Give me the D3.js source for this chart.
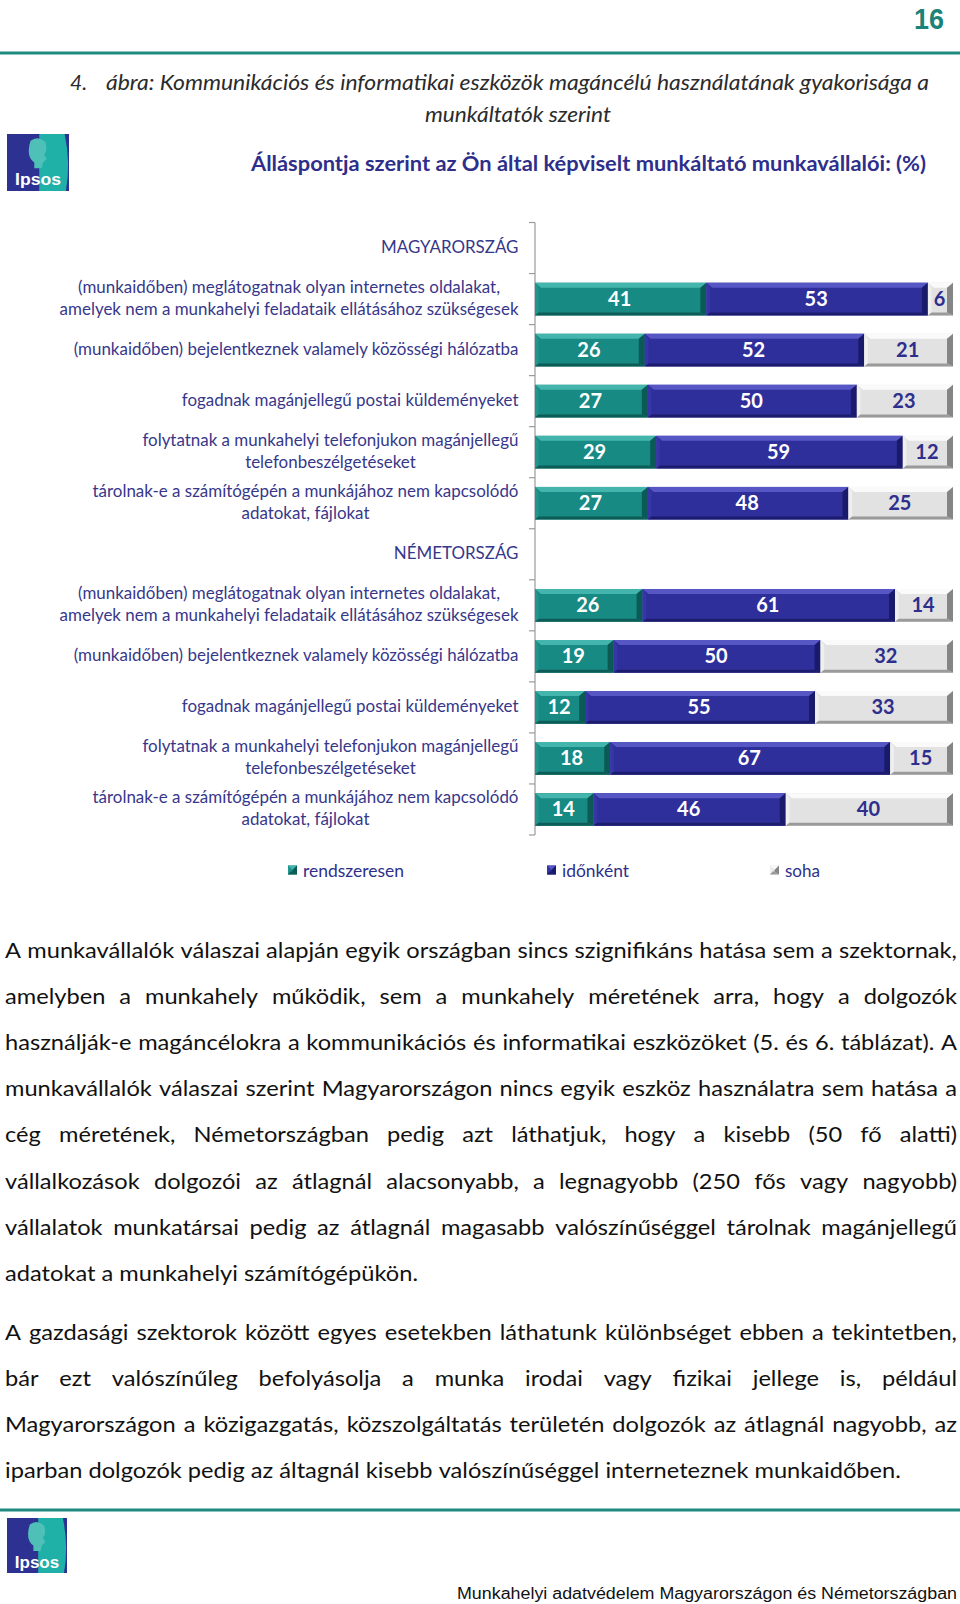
<!DOCTYPE html>
<html>
<head>
<meta charset="utf-8">
<script src="https://cdn.jsdelivr.net/npm/d3@7"></script>
<style>
  html, body { margin: 0; padding: 0; background: #fff; }
  svg { display: block; }
</style>
</head>
<body>
<svg id="page" width="960" height="1604"></svg>
<script>
// ---------------- DATA ----------------
const pageNumber = "16";
const figureNumber = "4.";
const titleLine1 = "ábra: Kommunikációs és informatikai eszközök magáncélú használatának gyakorisága a";
const titleLine2 = "munkáltatók szerint";
const subtitle = "Álláspontja szerint az Ön által képviselt munkáltató munkavállalói: (%)";

const countries = ["MAGYARORSZÁG", "NÉMETORSZÁG"];
const categories = [
  ["(munkaidőben) meglátogatnak olyan internetes oldalakat,", "amelyek nem a munkahelyi feladataik ellátásához szükségesek"],
  ["(munkaidőben) bejelentkeznek valamely közösségi hálózatba"],
  ["fogadnak magánjellegű postai küldeményeket"],
  ["folytatnak a munkahelyi telefonjukon magánjellegű", "telefonbeszélgetéseket"],
  ["tárolnak-e a számítógépén a munkájához nem kapcsolódó", "adatokat, fájlokat"]
];
const seriesNames = ["rendszeresen", "időnként", "soha"];

const huRendszeresen = [41, 26, 27, 29, 27];
const huIdonkent     = [53, 52, 50, 59, 48];
const huSoha         = [6, 21, 23, 12, 25];

const deRendszeresen = [26, 19, 12, 18, 14];
const deIdonkent     = [61, 50, 55, 67, 46];
const deSoha         = [14, 32, 33, 15, 40];

const paragraph1 = [
  "A munkavállalók válaszai alapján egyik országban sincs szignifikáns hatása sem a szektornak,",
  "amelyben a munkahely működik, sem a munkahely méretének arra, hogy a dolgozók",
  "használják-e magáncélokra a kommunikációs és informatikai eszközöket (5. és 6. táblázat). A",
  "munkavállalók válaszai szerint Magyarországon nincs egyik eszköz használatra sem hatása a",
  "cég méretének, Németországban pedig azt láthatjuk, hogy a kisebb (50 fő alatti)",
  "vállalkozások dolgozói az átlagnál alacsonyabb, a legnagyobb (250 fős vagy nagyobb)",
  "vállalatok munkatársai pedig az átlagnál magasabb valószínűséggel tárolnak magánjellegű",
  "adatokat a munkahelyi számítógépükön."
];
const paragraph2 = [
  "A gazdasági szektorok között egyes esetekben láthatunk különbséget ebben a tekintetben,",
  "bár ezt valószínűleg befolyásolja a munka irodai vagy fizikai jellege is, például",
  "Magyarországon a közigazgatás, közszolgáltatás területén dolgozók az átlagnál nagyobb, az",
  "iparban dolgozók pedig az áltagnál kisebb valószínűséggel interneteznek munkaidőben."
];
const footerText = "Munkahelyi adatvédelem Magyarországon és Németországban";

// ---------------- SETUP ----------------
const svg = d3.select("#page");
const TEAL_RULE = "#1f8a80";
const NAVY_TEXT = "#2e2f8a";
const LABEL_COL = "#37378a";
const BODY = "Lato, 'Open Sans', sans-serif";

const palettes = [
  { face: "#188a84", top: "#44b5ad", left: "#22958e", right: "#0b5a55", bottom: "#0c5c57", text: "#ffffff" },
  { face: "#2f2f9c", top: "#5656c4", left: "#3636a6", right: "#1a1a6a", bottom: "#1c1c6e", text: "#ffffff" },
  { face: "#e2e2e2", top: "#fafafa", left: "#efefef", right: "#858585", bottom: "#9a9a9a", text: "#2e2e8c" }
];

function measure(str, font, size, weight, style) {
  const t = svg.append("text").attr("font-family", font).attr("font-size", size)
    .attr("font-weight", weight || "normal").attr("font-style", style || "normal").text(str);
  const w = t.node().getComputedTextLength();
  t.remove();
  return w;
}
function squeeze(sel, ratio) {
  sel.each(function () {
    const w = this.getComputedTextLength();
    d3.select(this).attr("textLength", w * ratio).attr("lengthAdjust", "spacingAndGlyphs");
  });
}

// ---------------- HEADER ----------------
svg.append("text").attr("x", 944).attr("y", 29).attr("text-anchor", "end")
  .attr("font-family", "'Liberation Sans', Arial, sans-serif").attr("font-weight", "bold")
  .attr("font-size", 30).attr("fill", "#1a8278").text(pageNumber)
  .attr("textLength", 30).attr("lengthAdjust", "spacingAndGlyphs");

svg.append("line").attr("x1", 0).attr("x2", 960).attr("y1", 53).attr("y2", 53)
  .attr("stroke", TEAL_RULE).attr("stroke-width", 3);

const titleG = svg.append("g").attr("font-family", BODY).attr("font-style", "italic")
  .attr("font-size", 21).attr("fill", "#2b2b2b");
titleG.append("text").attr("x", 70).attr("y", 90).text(figureNumber);
titleG.append("text").attr("x", 106).attr("y", 90).text(titleLine1)
  .attr("textLength", 823).attr("lengthAdjust", "spacingAndGlyphs");
titleG.append("text").attr("x", 518).attr("y", 122).attr("text-anchor", "middle").text(titleLine2)
  .attr("textLength", 186).attr("lengthAdjust", "spacingAndGlyphs");

svg.append("text").attr("x", 251).attr("y", 171).attr("font-family", BODY).attr("font-weight", "bold")
  .attr("font-size", 21).attr("fill", NAVY_TEXT).text(subtitle)
  .attr("textLength", 675).attr("lengthAdjust", "spacingAndGlyphs");

function drawLogo(x, y, w, h) {
  const g = svg.append("g").attr("transform", `translate(${x},${y})`);
  g.append("rect").attr("width", w).attr("height", h).attr("fill", "#2d3192");
  g.append("path").attr("fill", "#1fb0a8")
    .attr("d", `M${w * 0.52},0 L${w * 0.93},0 Q${w * 1.03},${h * 0.5} ${w * 0.95},${h} L${w * 0.52},${h} Z`);
  // head silhouette
  g.append("path").attr("fill", "#4fc0b8")
    .attr("d", `M${w * 0.38},${h * 0.12} Q${w * 0.5},${h * 0.02} ${w * 0.62},${h * 0.14} Q${w * 0.66},${h * 0.3} ${w * 0.6},${h * 0.36} L${w * 0.64},${h * 0.44} L${w * 0.58},${h * 0.5} L${w * 0.56},${h * 0.6} L${w * 0.44},${h * 0.6} L${w * 0.44},${h * 0.5} Q${w * 0.3},${h * 0.4} ${w * 0.38},${h * 0.12} Z`);
  g.append("text").attr("x", w * 0.5).attr("y", h * 0.9).attr("text-anchor", "middle")
    .attr("font-family", "'Liberation Sans', Arial, sans-serif").attr("font-size", h * 0.3)
    .attr("font-weight", "bold").attr("fill", "#ffffff").text("Ipsos")
    .attr("textLength", w * 0.74).attr("lengthAdjust", "spacingAndGlyphs");
}
drawLogo(7, 134, 62, 57);

// ---------------- CHART ----------------
const rows = [];
countries.forEach((c, ci) => {
  rows.push({ key: "h" + ci, header: c });
  const r = ci === 0 ? [huRendszeresen, huIdonkent, huSoha] : [deRendszeresen, deIdonkent, deSoha];
  categories.forEach((cat, i) => {
    rows.push({ key: ci + "_" + i, label: cat, values: [r[0][i], r[1][i], r[2][i]] });
  });
});

const axisX = 535;
const y = d3.scaleBand().domain(rows.map(d => d.key)).range([222.5, 835])
  .paddingInner(0.36).paddingOuter(0.18);
const x = d3.scaleLinear().domain([0, 100]).range([axisX, 953]);
const step = y.step();
const off = (step - y.bandwidth()) / 2;

// axis line + ticks at band boundaries
const axisG = svg.append("g").attr("stroke", "#9a9a9a").attr("stroke-width", 1.2);
axisG.append("line").attr("x1", axisX).attr("x2", axisX).attr("y1", y.range()[0]).attr("y2", y.range()[1]);
const tickYs = rows.map(d => y(d.key) - off).concat([y(rows[rows.length - 1].key) + y.bandwidth() + off]);
axisG.selectAll("line.tick").data(tickYs).join("line").attr("class", "tick")
  .attr("x1", axisX - 6).attr("x2", axisX).attr("y1", d => d).attr("y2", d => d);

// labels
const labelRight = 518.5;
const LBL_SIZE = 17;
const lblRatio = 422 / measure(categories[0][0], BODY, LBL_SIZE);
const labelG = svg.append("g").attr("font-family", BODY).attr("font-size", LBL_SIZE).attr("fill", LABEL_COL);
rows.forEach(r => {
  const cy = y(r.key) + y.bandwidth() / 2;
  if (r.header) {
    const t = labelG.append("text").attr("x", labelRight).attr("y", cy + 5).attr("text-anchor", "end").text(r.header);
    squeeze(t, lblRatio);
  } else if (r.label.length === 1) {
    const t = labelG.append("text").attr("x", labelRight).attr("y", cy + 5).attr("text-anchor", "end").text(r.label[0]);
    squeeze(t, lblRatio);
  } else {
    const widths = r.label.map(s => measure(s, BODY, LBL_SIZE) * lblRatio);
    const maxW = d3.max(widths);
    const cx = labelRight - maxW / 2;
    r.label.forEach((s, i) => {
      const t = labelG.append("text").attr("x", cx).attr("y", cy - 6 + i * 21.5).attr("text-anchor", "middle").text(s);
      squeeze(t, lblRatio);
    });
  }
});

// bevelled segment
function bevel(g, x0, y0, w, h, p) {
  const bt = Math.min(5, h / 2), bs = Math.min(6, w / 2), bb = Math.min(3, h / 2);
  g.append("rect").attr("x", x0).attr("y", y0).attr("width", w).attr("height", h).attr("fill", p.face);
  const poly = (pts, fill) => g.append("polygon").attr("points", pts.map(q => q.join(",")).join(" ")).attr("fill", fill);
  poly([[x0, y0], [x0 + w, y0], [x0 + w - bs, y0 + bt], [x0 + bs, y0 + bt]], p.top);
  poly([[x0, y0], [x0 + bs * 0.6, y0 + bt], [x0 + bs * 0.6, y0 + h - bb], [x0, y0 + h]], p.left);
  poly([[x0 + w, y0], [x0 + w, y0 + h], [x0 + w - bs, y0 + h - bb], [x0 + w - bs, y0 + bt]], p.right);
  poly([[x0, y0 + h], [x0 + w, y0 + h], [x0 + w - bs, y0 + h - bb], [x0 + bs * 0.6, y0 + h - bb]], p.bottom);
}

const barG = svg.append("g");
const valG = svg.append("g").attr("font-family", BODY).attr("font-weight", "bold").attr("font-size", 20)
  .attr("text-anchor", "middle");
rows.filter(r => r.values).forEach(r => {
  const total = d3.sum(r.values);
  let cum = 0;
  r.values.forEach((v, i) => {
    const x0 = x(cum / total * 100);
    cum += v;
    const x1 = x(cum / total * 100);
    const g = barG.append("g");
    bevel(g, x0, y(r.key), x1 - x0, y.bandwidth(), palettes[i]);
    valG.append("text").attr("x", (x0 + x1) / 2 - 1).attr("y", y(r.key) + y.bandwidth() / 2 + 7)
      .attr("fill", palettes[i].text).text(v);
  });
});

// legend
const legendItems = [
  { name: seriesNames[0], sx: 288, w: 101 },
  { name: seriesNames[1], sx: 547, w: 67 },
  { name: seriesNames[2], sx: 770, w: 35 }
];
const legG = svg.append("g");
legendItems.forEach((d, i) => {
  bevel(legG, d.sx, 865.5, 9, 9, palettes[i]);
  legG.append("text").attr("x", d.sx + 15).attr("y", 876.5).attr("font-family", BODY)
    .attr("font-size", 18).attr("fill", NAVY_TEXT).text(d.name)
    .attr("textLength", d.w).attr("lengthAdjust", "spacingAndGlyphs");
});

// ---------------- BODY TEXT ----------------
const P_SIZE = 21;
const pLeft = 5, pRight = 957;
const pRatio = 413 / measure(paragraph1[paragraph1.length - 1], BODY, P_SIZE);
const spaceW = (measure("a a", BODY, P_SIZE) - measure("aa", BODY, P_SIZE)) * pRatio;
const textG = svg.append("g").attr("font-family", BODY).attr("font-size", P_SIZE).attr("fill", "#111");

function drawParagraph(lines, y0, lh) {
  lines.forEach((line, li) => {
    const words = line.split(" ");
    const ws = words.map(w => measure(w, BODY, P_SIZE) * pRatio);
    const last = li === lines.length - 1;
    const gap = last ? spaceW : (pRight - pLeft - d3.sum(ws)) / (words.length - 1);
    let cx = pLeft;
    const by = y0 + li * lh;
    words.forEach((w, wi) => {
      textG.append("text").attr("x", cx).attr("y", by).text(w)
        .attr("textLength", ws[wi]).attr("lengthAdjust", "spacingAndGlyphs");
      cx += ws[wi] + gap;
    });
  });
}
drawParagraph(paragraph1, 958, 46.1);
drawParagraph(paragraph2, 1340, 46.1);

// ---------------- FOOTER ----------------
svg.append("line").attr("x1", 0).attr("x2", 960).attr("y1", 1510).attr("y2", 1510)
  .attr("stroke", TEAL_RULE).attr("stroke-width", 3);
drawLogo(7, 1518, 60, 55);
svg.append("text").attr("x", 957).attr("y", 1599).attr("text-anchor", "end")
  .attr("font-family", "'Liberation Sans', Arial, sans-serif").attr("font-size", 16).attr("fill", "#111")
  .text(footerText).attr("textLength", 500).attr("lengthAdjust", "spacingAndGlyphs");
</script>
</body>
</html>
